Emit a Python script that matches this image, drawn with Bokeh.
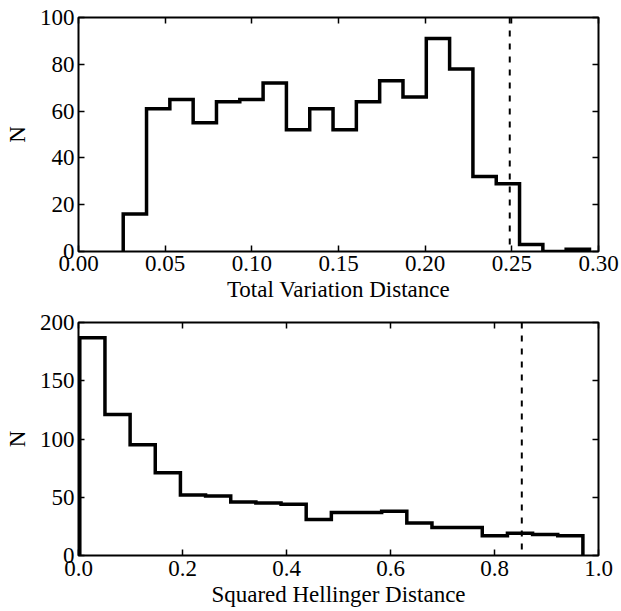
import numpy as np
from bokeh.plotting import figure
from bokeh.layouts import column
from bokeh.models import (LinearAxis, FixedTicker, NumeralTickFormatter, Range1d, Span,
                          CustomJSTickFormatter)
from bokeh.embed import file_html
from bokeh.resources import INLINE

# --- data ---
tv_edge_lo, tv_edge_hi = 0.0258, 0.2948
tv_counts = [16, 61, 65, 55, 64, 65, 72, 52, 61, 52, 64, 73, 66, 91, 78, 32, 29, 3, 0, 1]
tv_threshold = 0.2488
tv_ticks = [0.0, 0.05, 0.10, 0.15, 0.20, 0.25, 0.30]
tv_yticks = [0, 20, 40, 60, 80, 100]

hd_edge_lo, hd_edge_hi = 0.0025, 0.970
hd_counts = [187, 121, 95, 71, 52, 51, 46, 45, 44, 31, 37, 37, 38, 28, 24, 24, 17, 19, 18, 17]
hd_threshold = 0.8525
hd_ticks = [0.0, 0.2, 0.4, 0.6, 0.8, 1.0]
hd_yticks = [0, 50, 100, 150, 200]

FONT = "Liberation Serif"
FS = "23px"


def step_xy(lo, hi, counts):
    edges = np.linspace(lo, hi, len(counts) + 1)
    xs = np.repeat(edges, 2)
    ys = np.concatenate([[0], np.repeat(counts, 2), [0]])
    return xs, ys


def style_axis(ax, ticks, fmt, show_labels):
    ax.ticker = FixedTicker(ticks=ticks)
    ax.major_tick_in = 6
    ax.major_tick_out = 0
    ax.minor_tick_line_color = None
    ax.major_tick_line_width = 1.5
    ax.axis_line_color = None
    ax.major_label_text_font = FONT
    ax.major_label_text_color = "black"
    ax.axis_label_text_font = FONT
    ax.axis_label_text_font_style = "normal"
    ax.axis_label_text_font_size = FS
    ax.axis_label_text_color = "black"
    if show_labels:
        if fmt:
            ax.formatter = NumeralTickFormatter(format=fmt)
        ax.major_label_text_font_size = FS
    else:
        ax.formatter = CustomJSTickFormatter(code="return ''")
        ax.major_label_text_font_size = "1px"
        ax.major_label_standoff = 0


def make_panel(lo, hi, counts, thr, xr, yr, xticks, yticks, xfmt, xlabel,
               top_border, bottom_border, fh, tick_so, label_so):
    p = figure(frame_width=520, frame_height=fh, output_backend="svg", toolbar_location=None,
               x_range=Range1d(*xr), y_range=Range1d(*yr),
               min_border_left=78, min_border_right=22,
               min_border_top=top_border, min_border_bottom=bottom_border)
    p.grid.visible = False
    p.outline_line_color = "black"
    p.outline_line_width = 2
    p.outline_line_alpha = 1
    p.background_fill_color = "white"
    p.border_fill_color = "white"

    xs, ys = step_xy(lo, hi, counts)
    p.line(xs, ys, line_color="black", line_width=3.5, line_join="miter")
    p.add_layout(Span(location=thr, dimension="height", line_color="black",
                      line_width=2, line_dash="6 7"))

    style_axis(p.xaxis[0], xticks, xfmt, True)
    p.xaxis[0].axis_label = xlabel
    p.xaxis[0].major_label_standoff = tick_so
    p.xaxis[0].axis_label_standoff = label_so
    style_axis(p.yaxis[0], yticks, None, True)
    p.yaxis[0].axis_label = "N"
    p.yaxis[0].major_label_standoff = 4
    p.yaxis[0].axis_label_standoff = 7

    top = LinearAxis()
    style_axis(top, xticks, xfmt, False)
    p.add_layout(top, "above")
    right = LinearAxis()
    style_axis(right, yticks, None, False)
    p.add_layout(right, "right")
    return p


p1 = make_panel(tv_edge_lo, tv_edge_hi, tv_counts, tv_threshold, (0, 0.3), (0, 100),
                tv_ticks, tv_yticks, "0.00", "Total Variation Distance", 17, 55, 234, 4, 3)
p2 = make_panel(hd_edge_lo, hd_edge_hi, hd_counts, hd_threshold, (0, 1.0), (0, 200),
                hd_ticks, hd_yticks, "0.0", "Squared Hellinger Distance", 16, 55, 233, 5, 3)

layout = column(p1, p2, spacing=0)
open("out.html", "w").write(file_html(layout, INLINE))
